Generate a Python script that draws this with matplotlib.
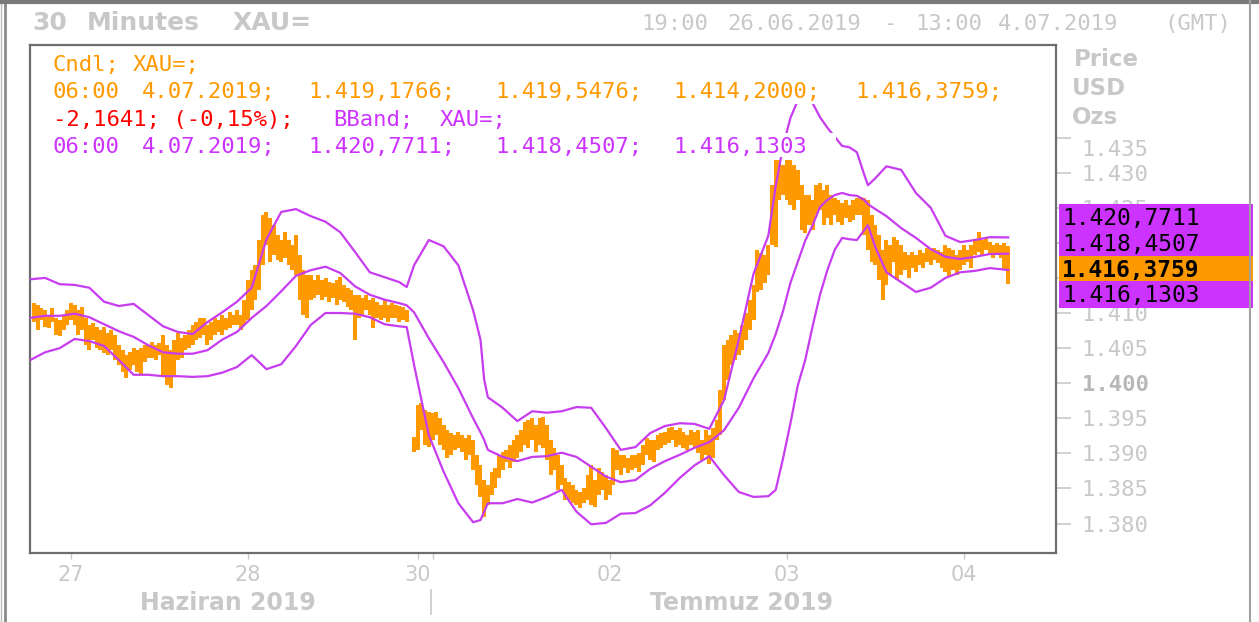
import matplotlib.pyplot as plt
import matplotlib.transforms as mtransforms
from matplotlib.patches import Rectangle
import numpy as np

nan = float('nan')

# 30 minute XAU bars, 19:00 26.06.2019 .. 06:00 4.07.2019 (bar index 102 = weekend gap)
highs = [
    1411.4, 1411.1, 1410.7, 1410.4, 1409.7, 1410.7, 1409.3, 1409.0, 1409.7, 1410.4,
    1411.4, 1411.1, 1410.4, 1410.9, 1409.3, 1408.3, 1408.6, 1408.0, 1407.6, 1408.0,
    1407.2, 1407.6, 1406.9, 1405.4, 1404.7, 1404.0, 1404.4, 1405.0, 1404.7, 1405.0,
    1405.4, 1405.4, 1405.9, 1405.4, 1405.7, 1406.9, 1405.4, 1404.7, 1406.2, 1407.2,
    1406.4, 1406.9, 1407.6, 1408.3, 1408.7, 1409.3, 1409.3, 1408.3, 1408.7, 1409.3,
    1409.0, 1409.7, 1409.3, 1410.1, 1409.7, 1410.4, 1409.7, 1411.9, 1414.7, 1416.1,
    1416.8, 1420.4, 1424.0, 1424.4, 1423.5, 1422.5, 1421.1, 1420.4, 1421.5, 1420.4,
    1419.7, 1421.1, 1418.3, 1416.1, 1415.4, 1415.4, 1414.7, 1415.4, 1414.7, 1415.0,
    1414.4, 1414.3, 1414.7, 1415.1, 1414.0, 1413.6, 1413.3, 1412.6, 1412.6, 1412.1,
    1412.6, 1411.9, 1412.1, 1411.6, 1411.1, 1411.9, 1411.1, 1411.4, 1411.1, 1411.0,
    1410.9, 1410.4, nan, 1392.3, 1396.9, 1397.2, 1396.2, 1395.9, 1395.8, 1395.9,
    1395.0, 1394.0, 1393.3, 1392.9, 1392.6, 1393.0, 1392.6, 1392.2, 1392.6, 1391.9,
    1389.8, 1388.3, 1386.2, 1385.5, 1387.4, 1387.9, 1389.8, 1390.2, 1390.5, 1391.2,
    1391.9, 1392.6, 1393.3, 1394.5, 1394.8, 1395.0, 1394.0, 1395.0, 1395.2, 1394.0,
    1391.9, 1390.8, 1389.8, 1388.3, 1386.5, 1385.9, 1385.5, 1384.8, 1384.5, 1385.1,
    1386.9, 1388.3, 1386.2, 1387.9, 1387.4, 1386.9, 1386.2, 1390.8, 1390.5, 1389.8,
    1389.8, 1389.3, 1389.8, 1389.8, 1390.1, 1391.2, 1392.2, 1391.9, 1391.9, 1392.6,
    1392.9, 1393.0, 1393.6, 1393.8, 1393.3, 1393.6, 1393.0, 1392.6, 1393.3, 1393.0,
    1393.3, 1391.9, 1393.3, 1392.6, 1393.6, 1394.8, 1399.0, 1405.4, 1406.2, 1406.9,
    1407.6, 1407.2, 1408.3, 1410.0, 1411.9, 1414.0, 1419.0, 1418.6, 1418.3, 1419.7,
    1428.2, 1431.8, 1431.8, 1431.1, 1431.8, 1431.8, 1431.1, 1430.4, 1428.2, 1426.8,
    1426.8, 1426.1, 1428.2, 1428.5, 1427.5, 1428.2, 1426.8, 1426.4, 1426.1, 1425.7,
    1426.1, 1425.4, 1426.1, 1426.4, 1426.5, 1426.4, 1426.1, 1424.0, 1422.5, 1421.1,
    1419.0, 1420.4, 1419.7, 1420.8, 1420.4, 1419.7, 1418.7, 1418.3, 1418.7, 1418.3,
    1419.0, 1418.6, 1419.3, 1419.0, 1419.3, 1419.0, 1418.7, 1419.7, 1419.3, 1419.0,
    1418.3, 1419.0, 1419.7, 1419.0, 1419.7, 1420.4, 1421.5, 1420.4, 1420.7, 1420.1,
    1419.7, 1420.0, 1419.7, 1420.0, 1419.5,
]
lows = [
    1408.7, 1407.6, 1409.0, 1408.0, 1407.9, 1408.7, 1406.9, 1406.7, 1407.6, 1408.3,
    1409.0, 1408.3, 1406.9, 1407.6, 1405.4, 1404.7, 1406.2, 1405.0, 1404.7, 1404.3,
    1404.0, 1404.7, 1403.3, 1402.6, 1401.6, 1400.7, 1401.9, 1402.6, 1401.6, 1401.2,
    1403.0, 1403.6, 1403.6, 1403.3, 1404.0, 1401.2, 1399.7, 1399.3, 1401.2, 1403.3,
    1403.6, 1404.7, 1405.0, 1405.4, 1406.2, 1406.4, 1406.9, 1405.4, 1406.2, 1406.9,
    1407.3, 1406.9, 1407.6, 1407.9, 1408.3, 1408.3, 1407.6, 1408.3, 1409.0, 1410.4,
    1411.9, 1413.3, 1416.8, 1419.7, 1417.3, 1418.3, 1417.5, 1417.3, 1417.8, 1416.8,
    1416.1, 1415.4, 1411.9, 1409.7, 1409.3, 1411.9, 1412.1, 1412.6, 1411.9, 1412.3,
    1411.6, 1412.1, 1411.1, 1411.9, 1411.6, 1410.9, 1410.4, 1406.2, 1409.3, 1409.7,
    1410.4, 1409.7, 1407.9, 1409.3, 1409.0, 1409.3, 1408.7, 1409.3, 1409.3, 1408.7,
    1409.0, 1408.7, nan, 1390.2, 1390.5, 1393.3, 1391.2, 1390.9, 1391.9, 1392.6,
    1391.2, 1390.5, 1389.3, 1389.8, 1390.5, 1390.8, 1390.2, 1389.1, 1389.8, 1387.6,
    1385.5, 1383.8, 1380.9, 1382.6, 1384.1, 1385.1, 1386.5, 1387.6, 1388.8, 1387.9,
    1388.8, 1389.3, 1390.2, 1391.2, 1390.8, 1391.9, 1390.2, 1391.2, 1390.8, 1389.1,
    1386.9, 1387.6, 1384.8, 1385.5, 1383.4, 1383.4, 1382.9, 1382.6, 1382.2, 1382.9,
    1383.4, 1382.6, 1382.3, 1384.1, 1384.8, 1383.4, 1384.1, 1385.5, 1387.6, 1386.9,
    1387.9, 1387.2, 1387.6, 1387.9, 1387.3, 1388.3, 1389.8, 1389.1, 1388.8, 1390.5,
    1390.8, 1391.2, 1391.5, 1391.9, 1390.9, 1391.2, 1390.8, 1390.5, 1391.2, 1390.8,
    1390.1, 1389.1, 1389.8, 1388.5, 1389.3, 1391.9, 1392.6, 1397.6, 1400.5, 1402.6,
    1403.3, 1404.0, 1404.7, 1406.2, 1407.6, 1409.0, 1413.0, 1413.3, 1414.3, 1415.4,
    1419.7, 1419.4, 1426.1, 1426.8, 1426.1, 1425.4, 1424.7, 1426.1, 1421.8, 1421.4,
    1422.5, 1421.8, 1424.0, 1424.7, 1422.5, 1423.5, 1422.5, 1424.0, 1423.0, 1422.5,
    1423.5, 1423.0, 1423.2, 1424.0, 1424.0, 1421.1, 1419.0, 1417.3, 1416.8, 1414.7,
    1411.9, 1414.0, 1415.4, 1417.3, 1414.7, 1415.4, 1416.1, 1415.0, 1416.4, 1415.8,
    1416.8, 1416.4, 1417.3, 1416.8, 1417.5, 1417.1, 1416.4, 1415.8, 1415.1, 1416.1,
    1415.4, 1416.1, 1416.8, 1417.3, 1416.4, 1418.3, 1418.7, 1418.3, 1419.0, 1418.3,
    1417.8, 1418.3, 1417.8, 1416.1, 1414.2,
]

# Bollinger band, read at these bar indices
band_idx = [-1, 3, 7, 11, 15, 19, 23, 27, 31, 35,
            39, 43, 47, 51, 55, 59, 63, 67, 71, 75,
            79, 83, 87, 91, 95, 99, 101, 103, 107, 111,
            115, 119, 121, 122, 123, 127, 131, 135, 139, 143,
            147, 151, 155, 159, 163, 167, 171, 175, 179, 183,
            187, 191, 195, 199, 201, 203, 205, 207, 209, 211,
            213, 215, 217, 219, 221, 223, 225, 226, 228, 231,
            235, 239, 243, 247, 251, 255, 259, 264]
band_upper = [1414.8, 1415.0, 1414.1, 1414.0, 1413.6, 1411.6, 1411.0, 1411.3, 1409.7, 1408.1,
              1407.3, 1407.0, 1408.7, 1410.1, 1411.6, 1413.6, 1420.5, 1424.4, 1424.8, 1423.8,
              1423.0, 1421.5, 1418.7, 1415.8, 1415.1, 1414.4, 1413.7, 1416.8, 1420.4, 1419.5,
              1416.8, 1410.4, 1406.2, 1400.5, 1398.0, 1396.5, 1394.6, 1396.0, 1395.8, 1396.0,
              1396.6, 1396.5, 1393.6, 1390.5, 1390.9, 1392.9, 1393.9, 1394.3, 1394.2, 1393.5,
              1397.6, 1406.2, 1415.6, 1421.0, 1428.1, 1433.8, 1437.8, 1440.3, 1441.5, 1439.9,
              1437.9, 1436.4, 1435.1, 1433.8, 1433.6, 1432.9, 1429.7, 1428.2, 1429.2, 1430.9,
              1430.4, 1427.1, 1425.0, 1421.0, 1420.1, 1420.4, 1420.8, 1420.77]
band_mid = [1409.3, 1409.6, 1409.6, 1409.9, 1409.4, 1408.4, 1407.4, 1406.6, 1405.4, 1404.4,
            1404.2, 1404.2, 1404.7, 1406.2, 1407.3, 1409.3, 1411.0, 1413.1, 1415.3, 1416.1,
            1416.6, 1415.7, 1413.8, 1412.6, 1411.9, 1411.4, 1411.1, 1410.1, 1406.4, 1403.0,
            1399.3, 1395.0, 1393.0, 1391.9, 1390.5, 1389.5, 1388.9, 1389.5, 1389.6, 1390.1,
            1389.5, 1388.1, 1386.7, 1385.9, 1386.2, 1387.8, 1388.9, 1389.8, 1390.8, 1391.6,
            1393.3, 1396.5, 1400.7, 1404.3, 1407.0, 1410.3, 1414.3, 1417.3, 1420.3, 1422.5,
            1425.1, 1426.1, 1426.8, 1427.1, 1426.8, 1426.7, 1426.1, 1425.5, 1424.8, 1423.8,
            1422.1, 1420.7, 1419.1, 1418.0, 1417.7, 1418.0, 1418.4, 1418.45]
band_lower = [1403.3, 1404.4, 1405.0, 1406.3, 1406.0, 1405.3, 1403.3, 1401.2, 1401.2, 1401.0,
              1401.0, 1400.9, 1401.0, 1401.5, 1402.3, 1404.0, 1402.0, 1402.7, 1405.3, 1408.3,
              1410.0, 1410.0, 1409.9, 1409.4, 1408.4, 1408.1, 1408.0, 1402.6, 1392.6, 1387.4,
              1382.9, 1380.2, 1380.5, 1381.7, 1382.9, 1382.9, 1383.5, 1383.0, 1383.8, 1384.8,
              1381.7, 1379.9, 1380.1, 1381.4, 1381.5, 1382.6, 1384.4, 1386.5, 1388.3, 1389.6,
              1386.9, 1384.5, 1383.8, 1383.9, 1384.8, 1389.3, 1394.3, 1399.7, 1403.3, 1408.1,
              1412.6, 1416.1, 1419.0, 1420.7, 1420.5, 1420.4, 1421.8, 1422.5, 1419.4, 1415.8,
              1414.4, 1413.0, 1413.6, 1415.0, 1415.8, 1416.0, 1416.4, 1416.13]

day_ticks = [10, 58, 104, 108, 156, 204, 252]
day_labels = ['27', '28', '30', '', '02', '03', '04']
price_ticks = [1380, 1385, 1390, 1395, 1400, 1405, 1410, 1415, 1420, 1425, 1430, 1435]
# 1.415 and 1.420 sit under the last-value boxes
price_labels = ['1.380', '1.385', '1.390', '1.395', '1.400', '1.405',
                '1.410', '', '', '1.425', '1.430', '1.435']
months = ['Haziran 2019', 'Temmuz 2019']

last_values = ['1.420,7711', '1.418,4507', '1.416,3759', '1.416,1303']

ORANGE = '#ff9900'
PURPLE = '#cc33ff'
BAND = '#c83cf0'
GREY = '#c8c8c8'
MONO = 'DejaVu Sans Mono'

W, H = 1259, 622
fig = plt.figure(figsize=(W / 100, H / 100), dpi=100)
fig.patch.set_facecolor('white')

# main price axes (pixel box 30..1056 x 45..553)
ax = fig.add_axes([30 / W, 1 - 553 / H, 1026 / W, 508 / H])
ax.vlines(np.arange(len(highs)), lows, highs, color=ORANGE, lw=2.9, zorder=2)
ax.plot(band_idx, band_upper, color=BAND, lw=1.6, zorder=3)
ax.plot(band_idx, band_mid, color=BAND, lw=1.6, zorder=3)
ax.plot(band_idx, band_lower, color=BAND, lw=1.6, zorder=3)

ax.set_xlim(-1.08, 276.96)
ax.set_ylim(1375.81, 1448.18)
for sp in ax.spines.values():
    sp.set_color('#6e6e6e')
    sp.set_linewidth(1.6)

ax.set_xticks(day_ticks, day_labels)
ax.tick_params(axis='x', direction='out', length=4.5, width=1, color=GREY,
               labelsize=15, labelcolor=GREY, pad=4)
ax.yaxis.tick_right()
ax.set_yticks(price_ticks, price_labels)
ax.tick_params(axis='y', direction='out', length=10.5, width=1.2, color=GREY,
               labelsize=16, labelcolor=GREY, pad=8, labelfontfamily=MONO)
for t in ax.yaxis.get_major_ticks():
    txt = t.label2.get_text()
    if txt == '1.400':
        t.label2.set_fontweight('bold')
        t.label2.set_color('#b8b8b8')
    if txt == '1.435':
        t.label2.set_transform(t.label2.get_transform() +
                               mtransforms.ScaledTranslation(0, -0.10, fig.dpi_scale_trans))

# overlay in pixel coordinates for the chart furniture
ov = fig.add_axes([0, 0, 1, 1])
ov.set_xlim(0, W)
ov.set_ylim(H, 0)
ov.axis('off')


def put(x, y, s, color, size=16, weight='normal', ha='left', family=MONO):
    ov.text(x, y, s, color=color, fontsize=size, fontweight=weight, ha=ha,
            va='baseline', family=family)


# outer frame
ov.plot([5, 5], [0, H], color='#8a8a8a', lw=2)
ov.plot([1, 1], [0, H], color='#bbbbbb', lw=1)
ov.plot([0, W], [2, 2], color='#7a7a7a', lw=3)
ov.plot([1250, 1250], [0, H], color='#a0a0a0', lw=1.5)

# header
for s, x in [('30', 32), ('Minutes', 87), ('XAU=', 233)]:
    put(x, 30, s, GREY, 18, 'bold', family='DejaVu Sans')
for s, x in [('19:00', 641), ('26.06.2019', 727), ('-', 883), ('13:00', 915),
             ('4.07.2019', 998), ('(GMT)', 1164)]:
    put(x, 30, s, GREY, 16)

# legend lines with white backing
for x0, y0, w, h in [(50, 52, 176, 26), (50, 79, 977, 25), (50, 106, 482, 26), (50, 133, 786, 24)]:
    ov.add_patch(Rectangle((x0, y0), w, h, facecolor='white', edgecolor='none'))
for s, x in [('Cndl;', 53), ('XAU=;', 133)]:
    put(x, 71, s, ORANGE)
for s, x in [('06:00', 53), ('4.07.2019;', 142), ('1.419,1766;', 308), ('1.419,5476;', 495),
             ('1.414,2000;', 673), ('1.416,3759;', 855)]:
    put(x, 98, s, ORANGE)
put(53, 126, '-2,1641; (-0,15%);', '#ff0000')
put(333, 126, 'BBand;', PURPLE)
put(440, 126, 'XAU=;', PURPLE)
for s, x in [('06:00', 53), ('4.07.2019;', 142), ('1.420,7711;', 308), ('1.418,4507;', 495),
             ('1.416,1303', 673)]:
    put(x, 153, s, PURPLE)

# right side unit labels
put(1074, 66, 'Price', GREY, 16.5, 'bold', family='DejaVu Sans')
put(1072, 95, 'USD', GREY, 16.5, 'bold', family='DejaVu Sans')
put(1072, 124, 'Ozs', GREY, 16.5, 'bold', family='DejaVu Sans')

# last value boxes
ov.add_patch(Rectangle((1059, 204), 194, 52, facecolor=PURPLE, edgecolor='none'))
ov.add_patch(Rectangle((1059, 256), 194, 25, facecolor=ORANGE, edgecolor='none'))
ov.add_patch(Rectangle((1059, 281), 194, 27, facecolor=PURPLE, edgecolor='none'))
put(1062, 225, last_values[0], 'black', 16.5)
put(1062, 251, last_values[1], 'black', 16.5)
put(1062, 277, last_values[2], 'black', 16.5, 'bold')
put(1062, 302, last_values[3], 'black', 16.5)

# month row
put(228, 610, months[0], GREY, 17, 'bold', 'center', family='DejaVu Sans')
put(742, 610, months[1], GREY, 17, 'bold', 'center', family='DejaVu Sans')
ov.plot([431, 431], [590, 614], color=GREY, lw=1.2)

fig.savefig('out.png', dpi=100, facecolor='white')
